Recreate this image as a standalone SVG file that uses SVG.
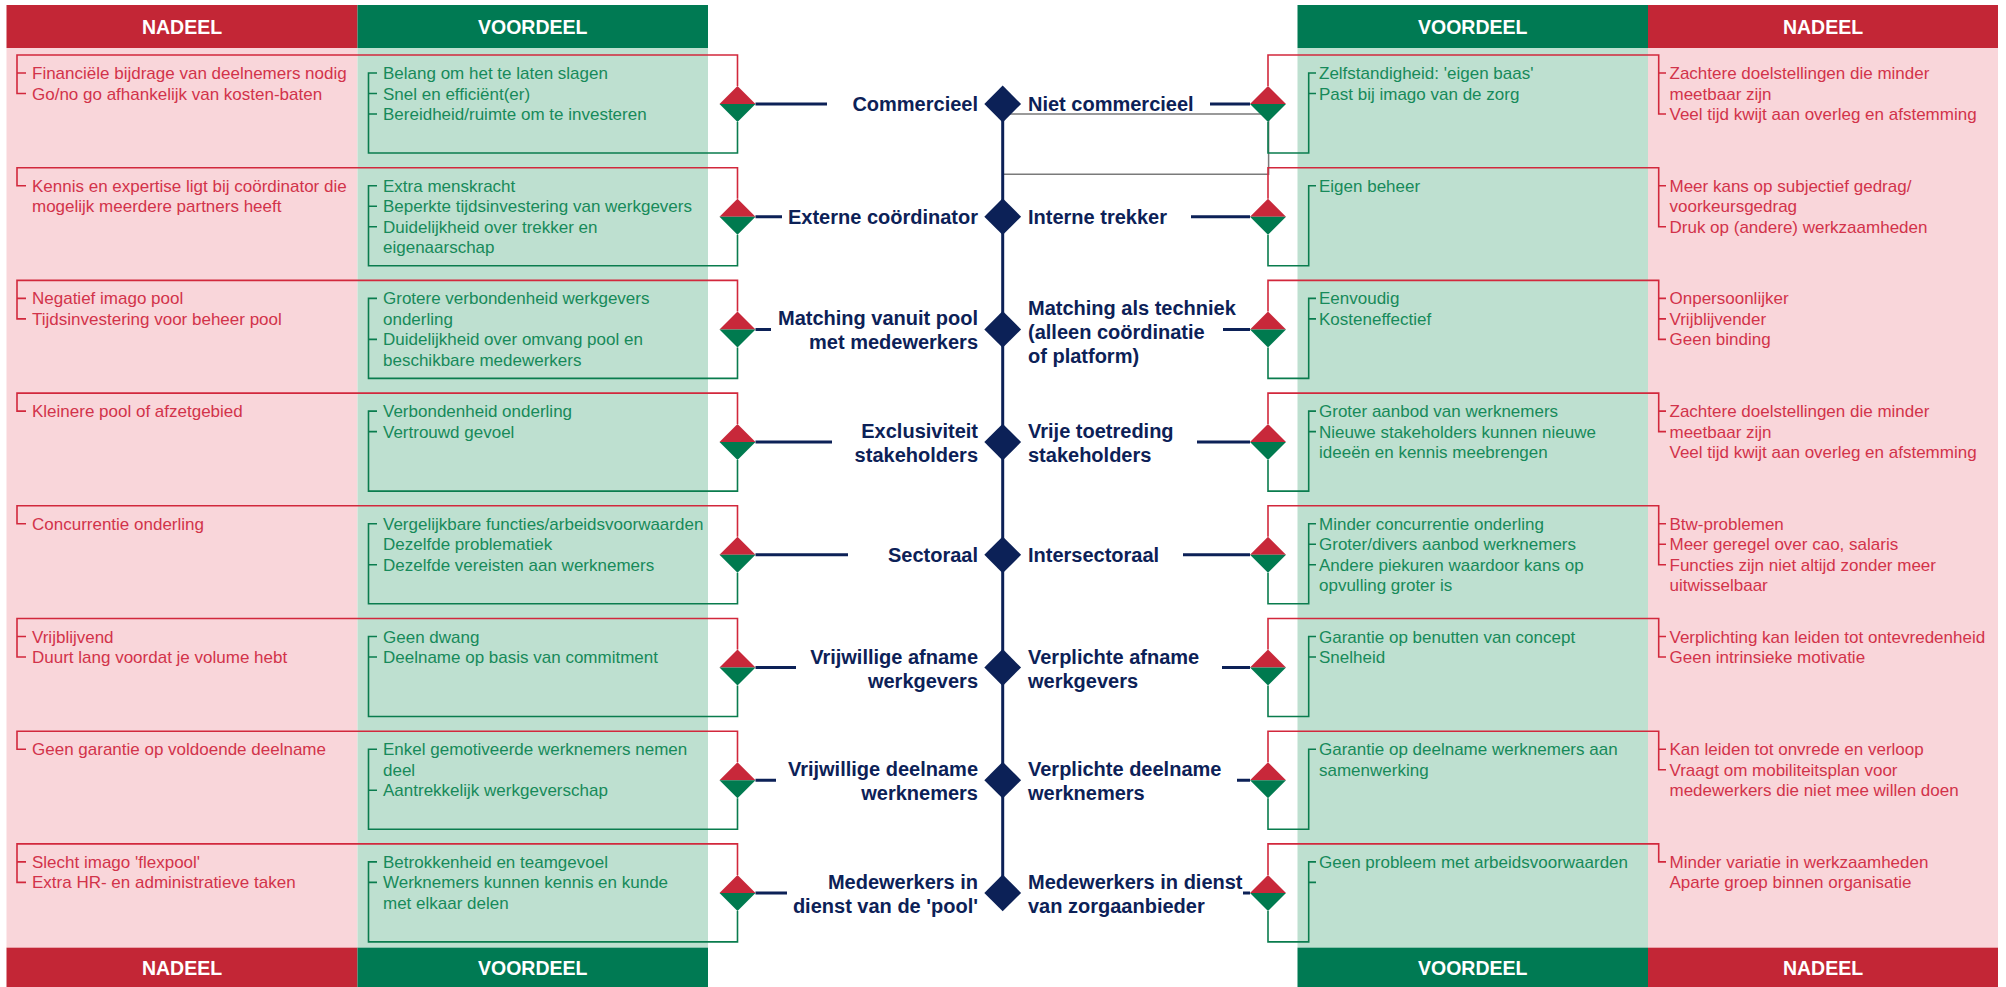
<svg xmlns="http://www.w3.org/2000/svg" xmlns:xlink="http://www.w3.org/1999/xlink" width="2006" height="987" viewBox="0 0 2006 987">
  <style>
    .hr { fill: #C32636; }
    .hg { fill: #007A53; }
    .br { fill: #F9D6DA; }
    .bgg { fill: #BEE0D0; }
    .ht { font-family: "Liberation Sans", Arial, sans-serif; font-weight: bold; font-size: 19.5px; fill: #FFFFFF; text-anchor: middle; }
    .nl { font-family: "Liberation Sans", Arial, sans-serif; font-weight: bold; font-size: 20px; fill: #0C2157; }
    .nl.e { text-anchor: end; }
    .tx { font-family: "Liberation Sans", Arial, sans-serif; font-size: 17px; }
    .tr { fill: #D2334A; }
    .tg { fill: #178A5A; }
    .lr { fill: none; stroke: #D2283C; stroke-width: 1.6; }
    .lg { fill: none; stroke: #0A7C4E; stroke-width: 1.6; }
    .nv { fill: none; stroke: #0C2157; stroke-width: 3; }
    .gy { fill: none; stroke: #7A7A7A; stroke-width: 1.5; }
    .dr { fill: #C8283A; }
    .dg { fill: #007A4F; }
    .dn { fill: #0C2157; }
  </style>
  <defs>
    <!-- split diamond: red upper half, green lower half -->
    <g id="pair">
      <path class="dr" d="M-18 0 L0 -18 L18 0 Z"/>
      <path class="dg" d="M-18 0 L0 18 L18 0 Z"/>
    </g>
    <path id="hub" class="dn" d="M-18.4 0 L0 -18.4 L18.4 0 L0 18.4 Z"/>
  </defs>

  <!-- column backgrounds -->
  <g id="columns">
    <rect class="br" x="6.5" y="48" width="351" height="900"/>
    <rect class="bgg" x="357.5" y="48" width="350.5" height="900"/>
    <rect class="bgg" x="1297.5" y="48" width="350.5" height="900"/>
    <rect class="br" x="1648" y="48" width="350" height="900"/>
  </g>

  <!-- column headers, top and bottom -->
  <g id="headers">
    <rect class="hr" x="6.5" y="5" width="351" height="43"/>
    <rect class="hg" x="357.5" y="5" width="350.5" height="43"/>
    <rect class="hg" x="1297.5" y="5" width="350.5" height="43"/>
    <rect class="hr" x="1648" y="5" width="350" height="43"/>
    <text class="ht" x="182" y="33.5">NADEEL</text>
    <text class="ht" x="532.7" y="33.5">VOORDEEL</text>
    <text class="ht" x="1472.7" y="33.5">VOORDEEL</text>
    <text class="ht" x="1823" y="33.5">NADEEL</text>
    <rect class="hr" x="6.5" y="947.7" width="351" height="40"/>
    <rect class="hg" x="357.5" y="947.7" width="350.5" height="40"/>
    <rect class="hg" x="1297.5" y="947.7" width="350.5" height="40"/>
    <rect class="hr" x="1648" y="947.7" width="350" height="40"/>
    <text class="ht" x="182" y="974.5">NADEEL</text>
    <text class="ht" x="532.7" y="974.5">VOORDEEL</text>
    <text class="ht" x="1472.7" y="974.5">VOORDEEL</text>
    <text class="ht" x="1823" y="974.5">NADEEL</text>
  </g>

  <!-- spine and links from the hub to each option -->
  <g id="connectors">
    <path class="gy" d="M1002.7 114 H1268.6 V174.3 H1002.7"/>
    <path class="nv" d="M1002.7 104 V892.9"/>
    <path class="nv" d="M755.5 104 H827 M1210 104 H1250"/>
    <path class="nv" d="M755.5 216.7 H782 M1191 216.7 H1250"/>
    <path class="nv" d="M755.5 329.4 H771 M1223 329.4 H1250"/>
    <path class="nv" d="M755.5 442.1 H832 M1197 442.1 H1250"/>
    <path class="nv" d="M755.5 554.8 H848 M1183 554.8 H1250"/>
    <path class="nv" d="M755.5 667.5 H796 M1222 667.5 H1250"/>
    <path class="nv" d="M755.5 780.2 H776 M1237 780.2 H1250"/>
    <path class="nv" d="M755.5 892.9 H787 M1243 892.9 H1250"/>
  </g>

  <!-- row 1 -->
  <g id="row1" transform="translate(0,104)">
    <g id="commercieel">
      <path class="lr" d="M737.5 -18 V-49 H17 V-10.5 H26 M17 -31 H26"/>
      <path class="lg" d="M737.5 18 V49 H368.5 V-31 H377 M368.5 -10.5 H377 M368.5 10 H377"/>
      <text class="tx tr" x="32" y="-25">Financiële bijdrage van deelnemers nodig</text>
      <text class="tx tr" x="32" y="-4.5">Go/no go afhankelijk van kosten-baten</text>
      <text class="tx tg" x="383" y="-25">Belang om het te laten slagen</text>
      <text class="tx tg" x="383" y="-4.5">Snel en efficiënt(er)</text>
      <text class="tx tg" x="383" y="16">Bereidheid/ruimte om te investeren</text>
      <use xlink:href="#pair" x="737.5"/>
      <text class="nl e" x="978" y="7">Commercieel</text>
    </g>
    <use id="hub1" xlink:href="#hub" x="1002.7"/>
    <g id="niet-commercieel">
      <path class="lg" d="M1268 18 V49 H1308.7 V-31 H1316 M1308.7 -10.5 H1316"/>
      <path class="lr" d="M1268 -18 V-49 H1658.7 V10 H1666 M1658.7 -31 H1666"/>
      <text class="tx tg" x="1319" y="-25">Zelfstandigheid: 'eigen baas'</text>
      <text class="tx tg" x="1319" y="-4.5">Past bij imago van de zorg</text>
      <text class="tx tr" x="1669.5" y="-25">Zachtere doelstellingen die minder</text>
      <text class="tx tr" x="1669.5" y="-4.5">meetbaar zijn</text>
      <text class="tx tr" x="1669.5" y="16">Veel tijd kwijt aan overleg en afstemming</text>
      <use xlink:href="#pair" x="1268"/>
      <text class="nl" x="1028" y="7">Niet commercieel</text>
    </g>
  </g>

  <!-- row 2 -->
  <g id="row2" transform="translate(0,216.7)">
    <g id="externe-coordinator">
      <path class="lr" d="M737.5 -18 V-49 H17 V-31 H26"/>
      <path class="lg" d="M737.5 18 V49 H368.5 V-31 H377 M368.5 -10.5 H377 M368.5 10 H377"/>
      <text class="tx tr" x="32" y="-25">Kennis en expertise ligt bij coördinator die</text>
      <text class="tx tr" x="32" y="-4.5">mogelijk meerdere partners heeft</text>
      <text class="tx tg" x="383" y="-25">Extra menskracht</text>
      <text class="tx tg" x="383" y="-4.5">Beperkte tijdsinvestering van werkgevers</text>
      <text class="tx tg" x="383" y="16">Duidelijkheid over trekker en</text>
      <text class="tx tg" x="383" y="36.5">eigenaarschap</text>
      <use xlink:href="#pair" x="737.5"/>
      <text class="nl e" x="978" y="7">Externe coördinator</text>
    </g>
    <use id="hub2" xlink:href="#hub" x="1002.7"/>
    <g id="interne-trekker">
      <path class="lg" d="M1268 18 V49 H1308.7 V-31 H1316"/>
      <path class="lr" d="M1268 -18 V-49 H1658.7 V10 H1666 M1658.7 -31 H1666"/>
      <text class="tx tg" x="1319" y="-25">Eigen beheer</text>
      <text class="tx tr" x="1669.5" y="-25">Meer kans op subjectief gedrag/</text>
      <text class="tx tr" x="1669.5" y="-4.5">voorkeursgedrag</text>
      <text class="tx tr" x="1669.5" y="16">Druk op (andere) werkzaamheden</text>
      <use xlink:href="#pair" x="1268"/>
      <text class="nl" x="1028" y="7">Interne trekker</text>
    </g>
  </g>

  <!-- row 3 -->
  <g id="row3" transform="translate(0,329.4)">
    <g id="matching-pool">
      <path class="lr" d="M737.5 -18 V-49 H17 V-10.5 H26 M17 -31 H26"/>
      <path class="lg" d="M737.5 18 V49 H368.5 V-31 H377 M368.5 10 H377"/>
      <text class="tx tr" x="32" y="-25">Negatief imago pool</text>
      <text class="tx tr" x="32" y="-4.5">Tijdsinvestering voor beheer pool</text>
      <text class="tx tg" x="383" y="-25">Grotere verbondenheid werkgevers</text>
      <text class="tx tg" x="383" y="-4.5">onderling</text>
      <text class="tx tg" x="383" y="16">Duidelijkheid over omvang pool en</text>
      <text class="tx tg" x="383" y="36.5">beschikbare medewerkers</text>
      <use xlink:href="#pair" x="737.5"/>
      <text class="nl e" x="978" y="-4">Matching vanuit pool</text>
      <text class="nl e" x="978" y="20">met medewerkers</text>
    </g>
    <use id="hub3" xlink:href="#hub" x="1002.7"/>
    <g id="matching-techniek">
      <path class="lg" d="M1268 18 V49 H1308.7 V-31 H1316 M1308.7 -10.5 H1316"/>
      <path class="lr" d="M1268 -18 V-49 H1658.7 V10 H1666 M1658.7 -31 H1666 M1658.7 -10.5 H1666"/>
      <text class="tx tg" x="1319" y="-25">Eenvoudig</text>
      <text class="tx tg" x="1319" y="-4.5">Kosteneffectief</text>
      <text class="tx tr" x="1669.5" y="-25">Onpersoonlijker</text>
      <text class="tx tr" x="1669.5" y="-4.5">Vrijblijvender</text>
      <text class="tx tr" x="1669.5" y="16">Geen binding</text>
      <use xlink:href="#pair" x="1268"/>
      <text class="nl" x="1028" y="-14">Matching als techniek</text>
      <text class="nl" x="1028" y="10">(alleen coördinatie</text>
      <text class="nl" x="1028" y="34">of platform)</text>
    </g>
  </g>

  <!-- row 4 -->
  <g id="row4" transform="translate(0,442.1)">
    <g id="exclusiviteit">
      <path class="lr" d="M737.5 -18 V-49 H17 V-31 H26"/>
      <path class="lg" d="M737.5 18 V49 H368.5 V-31 H377 M368.5 -10.5 H377"/>
      <text class="tx tr" x="32" y="-25">Kleinere pool of afzetgebied</text>
      <text class="tx tg" x="383" y="-25">Verbondenheid onderling</text>
      <text class="tx tg" x="383" y="-4.5">Vertrouwd gevoel</text>
      <use xlink:href="#pair" x="737.5"/>
      <text class="nl e" x="978" y="-4">Exclusiviteit</text>
      <text class="nl e" x="978" y="20">stakeholders</text>
    </g>
    <use id="hub4" xlink:href="#hub" x="1002.7"/>
    <g id="vrije-toetreding">
      <path class="lg" d="M1268 18 V49 H1308.7 V-31 H1316 M1308.7 -10.5 H1316"/>
      <path class="lr" d="M1268 -18 V-49 H1658.7 V-10.5 H1666 M1658.7 -31 H1666"/>
      <text class="tx tg" x="1319" y="-25">Groter aanbod van werknemers</text>
      <text class="tx tg" x="1319" y="-4.5">Nieuwe stakeholders kunnen nieuwe</text>
      <text class="tx tg" x="1319" y="16">ideeën en kennis meebrengen</text>
      <text class="tx tr" x="1669.5" y="-25">Zachtere doelstellingen die minder</text>
      <text class="tx tr" x="1669.5" y="-4.5">meetbaar zijn</text>
      <text class="tx tr" x="1669.5" y="16">Veel tijd kwijt aan overleg en afstemming</text>
      <use xlink:href="#pair" x="1268"/>
      <text class="nl" x="1028" y="-4">Vrije toetreding</text>
      <text class="nl" x="1028" y="20">stakeholders</text>
    </g>
  </g>

  <!-- row 5 -->
  <g id="row5" transform="translate(0,554.8)">
    <g id="sectoraal">
      <path class="lr" d="M737.5 -18 V-49 H17 V-31 H26"/>
      <path class="lg" d="M737.5 18 V49 H368.5 V-31 H377 M368.5 10 H377"/>
      <text class="tx tr" x="32" y="-25">Concurrentie onderling</text>
      <text class="tx tg" x="383" y="-25">Vergelijkbare functies/arbeidsvoorwaarden</text>
      <text class="tx tg" x="383" y="-4.5">Dezelfde problematiek</text>
      <text class="tx tg" x="383" y="16">Dezelfde vereisten aan werknemers</text>
      <use xlink:href="#pair" x="737.5"/>
      <text class="nl e" x="978" y="7">Sectoraal</text>
    </g>
    <use id="hub5" xlink:href="#hub" x="1002.7"/>
    <g id="intersectoraal">
      <path class="lg" d="M1268 18 V49 H1308.7 V-31 H1316 M1308.7 -10.5 H1316 M1308.7 10 H1316"/>
      <path class="lr" d="M1268 -18 V-49 H1658.7 V10 H1666 M1658.7 -31 H1666 M1658.7 -10.5 H1666"/>
      <text class="tx tg" x="1319" y="-25">Minder concurrentie onderling</text>
      <text class="tx tg" x="1319" y="-4.5">Groter/divers aanbod werknemers</text>
      <text class="tx tg" x="1319" y="16">Andere piekuren waardoor kans op</text>
      <text class="tx tg" x="1319" y="36.5">opvulling groter is</text>
      <text class="tx tr" x="1669.5" y="-25">Btw-problemen</text>
      <text class="tx tr" x="1669.5" y="-4.5">Meer geregel over cao, salaris</text>
      <text class="tx tr" x="1669.5" y="16">Functies zijn niet altijd zonder meer</text>
      <text class="tx tr" x="1669.5" y="36.5">uitwisselbaar</text>
      <use xlink:href="#pair" x="1268"/>
      <text class="nl" x="1028" y="7">Intersectoraal</text>
    </g>
  </g>

  <!-- row 6 -->
  <g id="row6" transform="translate(0,667.5)">
    <g id="vrijwillige-afname">
      <path class="lr" d="M737.5 -18 V-49 H17 V-10.5 H26 M17 -31 H26"/>
      <path class="lg" d="M737.5 18 V49 H368.5 V-31 H377 M368.5 -10.5 H377"/>
      <text class="tx tr" x="32" y="-25">Vrijblijvend</text>
      <text class="tx tr" x="32" y="-4.5">Duurt lang voordat je volume hebt</text>
      <text class="tx tg" x="383" y="-25">Geen dwang</text>
      <text class="tx tg" x="383" y="-4.5">Deelname op basis van commitment</text>
      <use xlink:href="#pair" x="737.5"/>
      <text class="nl e" x="978" y="-4">Vrijwillige afname</text>
      <text class="nl e" x="978" y="20">werkgevers</text>
    </g>
    <use id="hub6" xlink:href="#hub" x="1002.7"/>
    <g id="verplichte-afname">
      <path class="lg" d="M1268 18 V49 H1308.7 V-31 H1316 M1308.7 -10.5 H1316"/>
      <path class="lr" d="M1268 -18 V-49 H1658.7 V-10.5 H1666 M1658.7 -31 H1666"/>
      <text class="tx tg" x="1319" y="-25">Garantie op benutten van concept</text>
      <text class="tx tg" x="1319" y="-4.5">Snelheid</text>
      <text class="tx tr" x="1669.5" y="-25">Verplichting kan leiden tot ontevredenheid</text>
      <text class="tx tr" x="1669.5" y="-4.5">Geen intrinsieke motivatie</text>
      <use xlink:href="#pair" x="1268"/>
      <text class="nl" x="1028" y="-4">Verplichte afname</text>
      <text class="nl" x="1028" y="20">werkgevers</text>
    </g>
  </g>

  <!-- row 7 -->
  <g id="row7" transform="translate(0,780.2)">
    <g id="vrijwillige-deelname">
      <path class="lr" d="M737.5 -18 V-49 H17 V-31 H26"/>
      <path class="lg" d="M737.5 18 V49 H368.5 V-31 H377 M368.5 10 H377"/>
      <text class="tx tr" x="32" y="-25">Geen garantie op voldoende deelname</text>
      <text class="tx tg" x="383" y="-25">Enkel gemotiveerde werknemers nemen</text>
      <text class="tx tg" x="383" y="-4.5">deel</text>
      <text class="tx tg" x="383" y="16">Aantrekkelijk werkgeverschap</text>
      <use xlink:href="#pair" x="737.5"/>
      <text class="nl e" x="978" y="-4">Vrijwillige deelname</text>
      <text class="nl e" x="978" y="20">werknemers</text>
    </g>
    <use id="hub7" xlink:href="#hub" x="1002.7"/>
    <g id="verplichte-deelname">
      <path class="lg" d="M1268 18 V49 H1308.7 V-31 H1316"/>
      <path class="lr" d="M1268 -18 V-49 H1658.7 V-10.5 H1666 M1658.7 -31 H1666"/>
      <text class="tx tg" x="1319" y="-25">Garantie op deelname werknemers aan</text>
      <text class="tx tg" x="1319" y="-4.5">samenwerking</text>
      <text class="tx tr" x="1669.5" y="-25">Kan leiden tot onvrede en verloop</text>
      <text class="tx tr" x="1669.5" y="-4.5">Vraagt om mobiliteitsplan voor</text>
      <text class="tx tr" x="1669.5" y="16">medewerkers die niet mee willen doen</text>
      <use xlink:href="#pair" x="1268"/>
      <text class="nl" x="1028" y="-4">Verplichte deelname</text>
      <text class="nl" x="1028" y="20">werknemers</text>
    </g>
  </g>

  <!-- row 8 -->
  <g id="row8" transform="translate(0,892.9)">
    <g id="dienst-pool">
      <path class="lr" d="M737.5 -18 V-49 H17 V-10.5 H26 M17 -31 H26"/>
      <path class="lg" d="M737.5 18 V49 H368.5 V-31 H377 M368.5 -10.5 H377"/>
      <text class="tx tr" x="32" y="-25">Slecht imago 'flexpool'</text>
      <text class="tx tr" x="32" y="-4.5">Extra HR- en administratieve taken</text>
      <text class="tx tg" x="383" y="-25">Betrokkenheid en teamgevoel</text>
      <text class="tx tg" x="383" y="-4.5">Werknemers kunnen kennis en kunde</text>
      <text class="tx tg" x="383" y="16">met elkaar delen</text>
      <use xlink:href="#pair" x="737.5"/>
      <text class="nl e" x="978" y="-4">Medewerkers in</text>
      <text class="nl e" x="978" y="20">dienst van de 'pool'</text>
    </g>
    <use id="hub8" xlink:href="#hub" x="1002.7"/>
    <g id="dienst-zorgaanbieder">
      <path class="lg" d="M1268 18 V49 H1308.7 V-31 H1316 M1308.7 -10.5 H1316"/>
      <path class="lr" d="M1268 -18 V-49 H1658.7 V-31 H1666"/>
      <text class="tx tg" x="1319" y="-25">Geen probleem met arbeidsvoorwaarden</text>
      <text class="tx tr" x="1669.5" y="-25">Minder variatie in werkzaamheden</text>
      <text class="tx tr" x="1669.5" y="-4.5">Aparte groep binnen organisatie</text>
      <use xlink:href="#pair" x="1268"/>
      <text class="nl" x="1028" y="-4">Medewerkers in dienst</text>
      <text class="nl" x="1028" y="20">van zorgaanbieder</text>
    </g>
  </g>
</svg>
